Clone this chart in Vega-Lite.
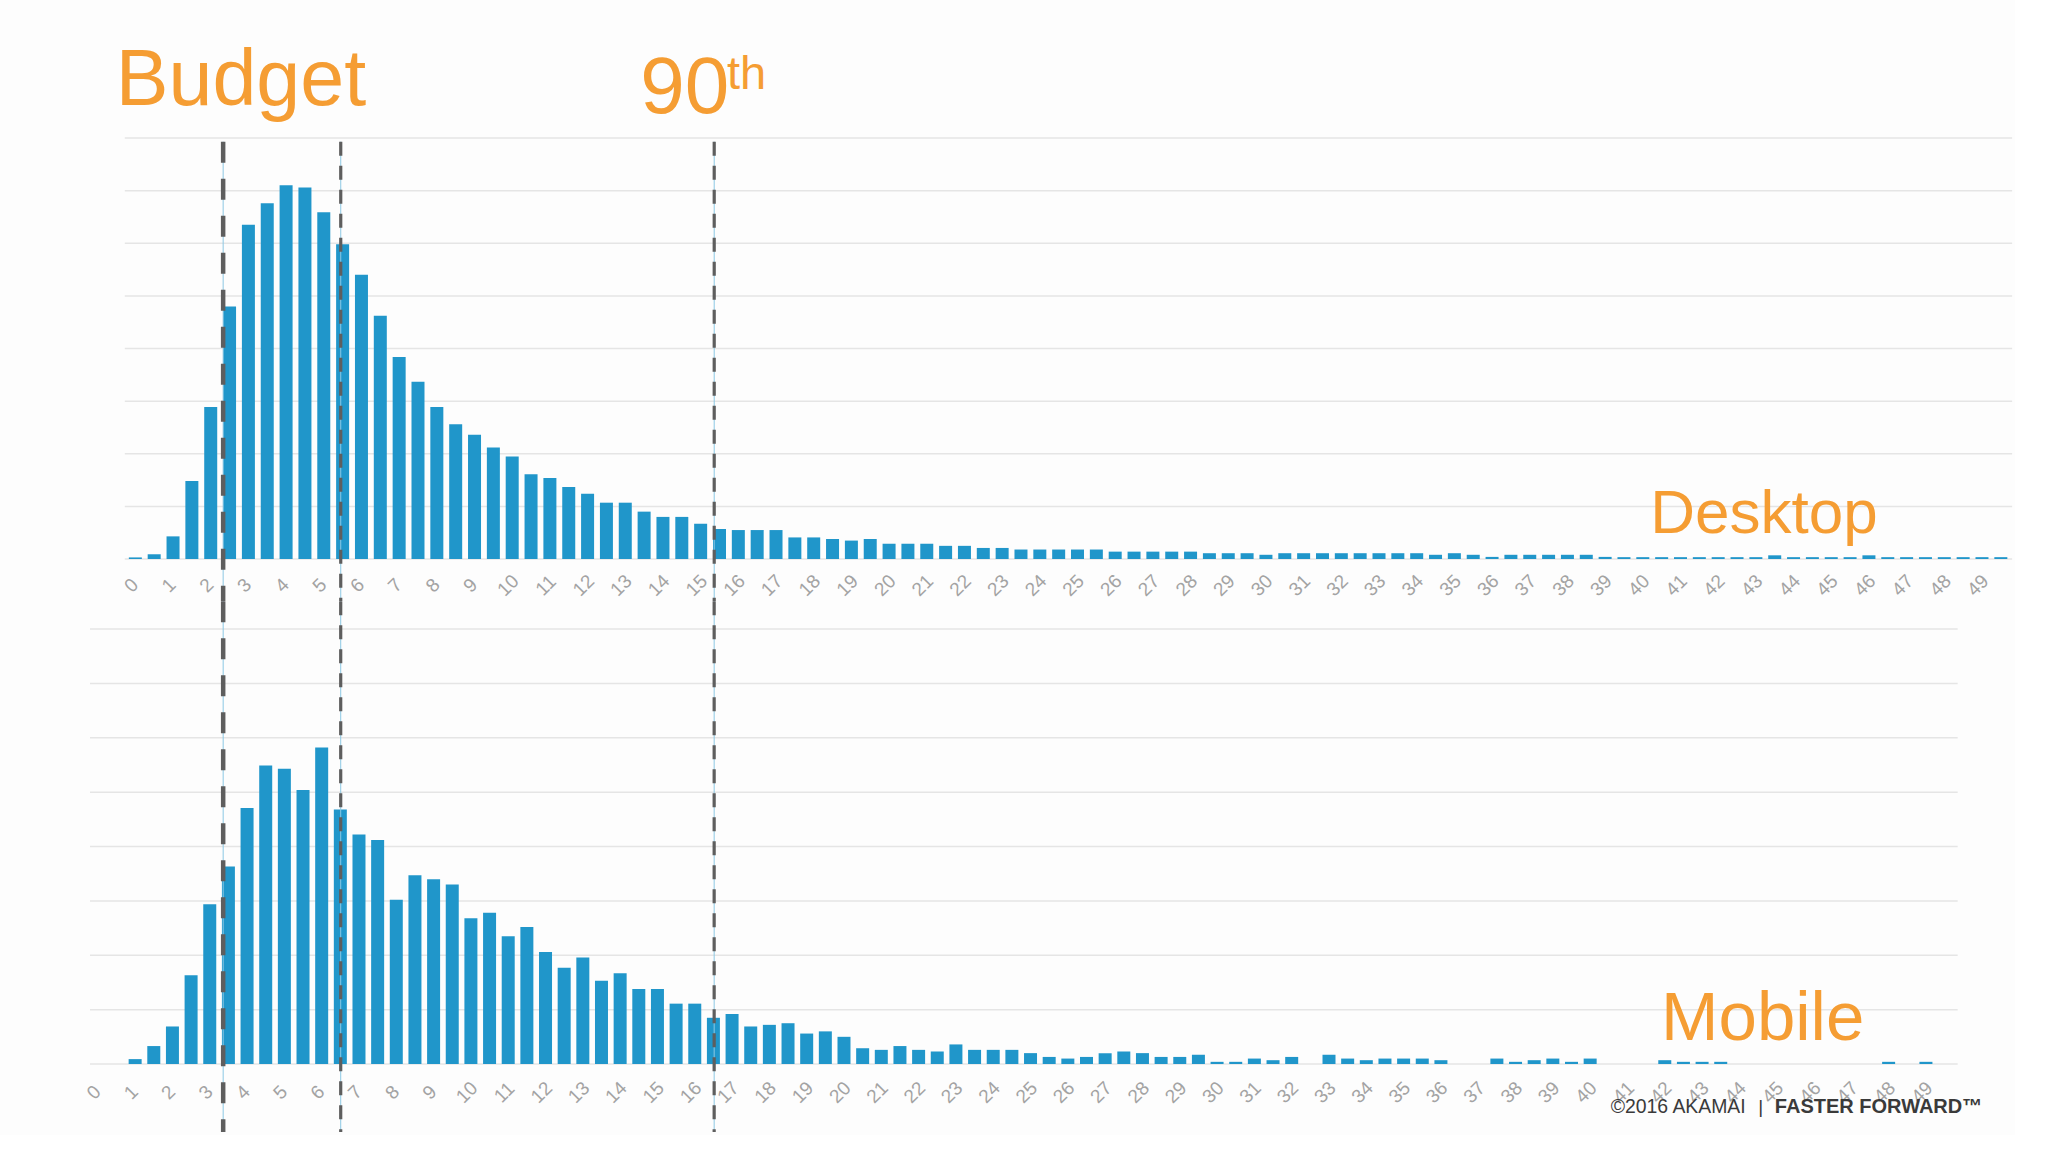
{
  "$schema": "https://vega.github.io/schema/vega-lite/v6.json",
  "background": "#fdfdfd",
  "padding": {"left": 82.5, "top": 42, "right": 0, "bottom": 0},
  "spacing": 70,
  "bounds": "flush",
  "config": {
    "view": {"stroke": null},
    "axisX": {"labelAngle": -45, "labelAlign": "center", "labelBaseline": "middle", "ticks": false, "tickSize": 0, "domain": false, "grid": false, "labelFontSize": 19, "labelColor": "#a3a3a3", "labelFont": "Liberation Sans", "labelOverlap": false, "labelFlush": false, "labelBound": false}
  },
  "datasets": {
    "desktop": [
      {"t":0.25,"share":0.03},{"t":0.75,"share":0.09},{"t":1.25,"share":0.43},{"t":1.75,"share":1.48},{"t":2.25,"share":2.89},{"t":2.75,"share":4.80},{"t":3.25,"share":6.35},{"t":3.75,"share":6.76},{"t":4.25,"share":7.10},{"t":4.75,"share":7.06},
      {"t":5.25,"share":6.59},{"t":5.75,"share":5.98},{"t":6.25,"share":5.40},{"t":6.75,"share":4.62},{"t":7.25,"share":3.84},{"t":7.75,"share":3.37},{"t":8.25,"share":2.89},{"t":8.75,"share":2.56},{"t":9.25,"share":2.36},{"t":9.75,"share":2.12},
      {"t":10.25,"share":1.95},{"t":10.75,"share":1.61},{"t":11.25,"share":1.54},{"t":11.75,"share":1.37},{"t":12.25,"share":1.24},{"t":12.75,"share":1.07},{"t":13.25,"share":1.07},{"t":13.75,"share":0.90},{"t":14.25,"share":0.80},{"t":14.75,"share":0.80},
      {"t":15.25,"share":0.67},{"t":15.75,"share":0.57},{"t":16.25,"share":0.55},{"t":16.75,"share":0.55},{"t":17.25,"share":0.55},{"t":17.75,"share":0.41},{"t":18.25,"share":0.41},{"t":18.75,"share":0.38},{"t":19.25,"share":0.35},{"t":19.75,"share":0.38},
      {"t":20.25,"share":0.29},{"t":20.75,"share":0.29},{"t":21.25,"share":0.29},{"t":21.75,"share":0.25},{"t":22.25,"share":0.25},{"t":22.75,"share":0.21},{"t":23.25,"share":0.21},{"t":23.75,"share":0.18},{"t":24.25,"share":0.18},{"t":24.75,"share":0.18},
      {"t":25.25,"share":0.18},{"t":25.75,"share":0.18},{"t":26.25,"share":0.14},{"t":26.75,"share":0.14},{"t":27.25,"share":0.14},{"t":27.75,"share":0.14},{"t":28.25,"share":0.14},{"t":28.75,"share":0.11},{"t":29.25,"share":0.11},{"t":29.75,"share":0.11},
      {"t":30.25,"share":0.08},{"t":30.75,"share":0.11},{"t":31.25,"share":0.11},{"t":31.75,"share":0.11},{"t":32.25,"share":0.11},{"t":32.75,"share":0.11},{"t":33.25,"share":0.11},{"t":33.75,"share":0.11},{"t":34.25,"share":0.11},{"t":34.75,"share":0.08},
      {"t":35.25,"share":0.11},{"t":35.75,"share":0.08},{"t":36.25,"share":0.04},{"t":36.75,"share":0.08},{"t":37.25,"share":0.08},{"t":37.75,"share":0.08},{"t":38.25,"share":0.08},{"t":38.75,"share":0.08},{"t":39.25,"share":0.04},{"t":39.75,"share":0.035},
      {"t":40.25,"share":0.035},{"t":40.75,"share":0.035},{"t":41.25,"share":0.035},{"t":41.75,"share":0.035},{"t":42.25,"share":0.035},{"t":42.75,"share":0.035},{"t":43.25,"share":0.035},{"t":43.75,"share":0.07},{"t":44.25,"share":0.035},{"t":44.75,"share":0.035},
      {"t":45.25,"share":0.035},{"t":45.75,"share":0.035},{"t":46.25,"share":0.07},{"t":46.75,"share":0.035},{"t":47.25,"share":0.035},{"t":47.75,"share":0.035},{"t":48.25,"share":0.035},{"t":48.75,"share":0.035},{"t":49.25,"share":0.035},{"t":49.75,"share":0.035}
    ],
    "mobile": [
      {"t":0.25,"share":0},{"t":0.75,"share":0},{"t":1.25,"share":0.09},{"t":1.75,"share":0.33},{"t":2.25,"share":0.69},{"t":2.75,"share":1.63},{"t":3.25,"share":2.94},{"t":3.75,"share":3.63},{"t":4.25,"share":4.71},{"t":4.75,"share":5.49},
      {"t":5.25,"share":5.43},{"t":5.75,"share":5.04},{"t":6.25,"share":5.82},{"t":6.75,"share":4.68},{"t":7.25,"share":4.22},{"t":7.75,"share":4.12},{"t":8.25,"share":3.02},{"t":8.75,"share":3.47},{"t":9.25,"share":3.40},{"t":9.75,"share":3.30},
      {"t":10.25,"share":2.68},{"t":10.75,"share":2.78},{"t":11.25,"share":2.35},{"t":11.75,"share":2.52},{"t":12.25,"share":2.06},{"t":12.75,"share":1.77},{"t":13.25,"share":1.96},{"t":13.75,"share":1.53},{"t":14.25,"share":1.67},{"t":14.75,"share":1.38},
      {"t":15.25,"share":1.38},{"t":15.75,"share":1.11},{"t":16.25,"share":1.11},{"t":16.75,"share":0.85},{"t":17.25,"share":0.92},{"t":17.75,"share":0.69},{"t":18.25,"share":0.72},{"t":18.75,"share":0.75},{"t":19.25,"share":0.56},{"t":19.75,"share":0.60},
      {"t":20.25,"share":0.50},{"t":20.75,"share":0.29},{"t":21.25,"share":0.26},{"t":21.75,"share":0.33},{"t":22.25,"share":0.26},{"t":22.75,"share":0.23},{"t":23.25,"share":0.36},{"t":23.75,"share":0.26},{"t":24.25,"share":0.26},{"t":24.75,"share":0.26},
      {"t":25.25,"share":0.20},{"t":25.75,"share":0.13},{"t":26.25,"share":0.10},{"t":26.75,"share":0.13},{"t":27.25,"share":0.20},{"t":27.75,"share":0.23},{"t":28.25,"share":0.20},{"t":28.75,"share":0.13},{"t":29.25,"share":0.13},{"t":29.75,"share":0.17},
      {"t":30.25,"share":0.04},{"t":30.75,"share":0.04},{"t":31.25,"share":0.10},{"t":31.75,"share":0.07},{"t":32.25,"share":0.13},{"t":32.75,"share":0},{"t":33.25,"share":0.17},{"t":33.75,"share":0.10},{"t":34.25,"share":0.07},{"t":34.75,"share":0.10},
      {"t":35.25,"share":0.10},{"t":35.75,"share":0.10},{"t":36.25,"share":0.07},{"t":36.75,"share":0},{"t":37.25,"share":0},{"t":37.75,"share":0.10},{"t":38.25,"share":0.04},{"t":38.75,"share":0.07},{"t":39.25,"share":0.10},{"t":39.75,"share":0.04},
      {"t":40.25,"share":0.10},{"t":40.75,"share":0},{"t":41.25,"share":0},{"t":41.75,"share":0},{"t":42.25,"share":0.07},{"t":42.75,"share":0.04},{"t":43.25,"share":0.04},{"t":43.75,"share":0.04},{"t":44.25,"share":0},{"t":44.75,"share":0},
      {"t":45.25,"share":0},{"t":45.75,"share":0},{"t":46.25,"share":0},{"t":46.75,"share":0},{"t":47.25,"share":0},{"t":47.75,"share":0},{"t":48.25,"share":0.04},{"t":48.75,"share":0},{"t":49.25,"share":0.04},{"t":49.75,"share":0}
    ],
    "grid": [{"g":0},{"g":1},{"g":2},{"g":3},{"g":4},{"g":5},{"g":6},{"g":7},{"g":8}],
    "desktopMarkers": [{"t":2.58,"kind":"budget"},{"t":5.70,"kind":"line"},{"t":15.61,"kind":"line"}],
    "mobileMarkers": [{"t":3.61,"kind":"budget"},{"t":6.76,"kind":"line"},{"t":16.77,"kind":"line"}],
    "one": [{"n":1}]
  },
  "vconcat": [
    {
      "width": 1931,
      "height": 421,
      "layer": [
        {
          "data": {"name": "grid"},
          "mark": {"type": "rule", "color": "#e5e5e5", "strokeWidth": 1.5},
          "encoding": {
            "x": {"datum": -0.03, "type": "quantitative",
                  "scale": {"domain": [-0.993, 49.98], "nice": false, "zero": false},
                  "axis": {"values": [0,1,2,3,4,5,6,7,8,9,10,11,12,13,14,15,16,17,18,19,20,21,22,23,24,25,26,27,28,29,30,31,32,33,34,35,36,37,38,39,40,41,42,43,44,45,46,47,48,49],
                           "labelPadding": 26, "labelOffset": 5, "title": null, "labelAngle": -45, "labelAlign": "center", "labelBaseline": "middle", "ticks": false, "tickSize": 0, "domain": false, "grid": false,
                           "labelFontSize": 19, "labelColor": "#a3a3a3", "labelFont": "Liberation Sans", "labelOverlap": false, "labelFlush": false, "labelBound": false}},
            "x2": {"datum": 50.05},
            "y": {"field": "g", "type": "quantitative", "scale": {"domain": [0, 8], "nice": false}, "axis": null}
          }
        },
        {
          "data": {"name": "desktop"},
          "mark": {"type": "bar", "width": 13, "color": "#2096ca"},
          "encoding": {
            "x": {"field": "t", "type": "quantitative",
                  "axis": {"values": [0,1,2,3,4,5,6,7,8,9,10,11,12,13,14,15,16,17,18,19,20,21,22,23,24,25,26,27,28,29,30,31,32,33,34,35,36,37,38,39,40,41,42,43,44,45,46,47,48,49],
                           "labelPadding": 26, "labelOffset": 5, "title": null, "labelAngle": -45, "labelAlign": "center", "labelBaseline": "middle", "ticks": false, "tickSize": 0, "domain": false, "grid": false,
                           "labelFontSize": 19, "labelColor": "#a3a3a3", "labelFont": "Liberation Sans", "labelOverlap": false, "labelFlush": false, "labelBound": false}},
            "y": {"field": "share", "type": "quantitative", "axis": null}
          }
        },
        {
          "data": {"name": "desktopMarkers"},
          "mark": {"type": "rule", "color": "#8cc8e4", "strokeWidth": 1},
          "encoding": {
            "x": {"field": "t", "type": "quantitative",
                  "axis": {"values": [0,1,2,3,4,5,6,7,8,9,10,11,12,13,14,15,16,17,18,19,20,21,22,23,24,25,26,27,28,29,30,31,32,33,34,35,36,37,38,39,40,41,42,43,44,45,46,47,48,49],
                           "labelPadding": 26, "labelOffset": 5, "title": null, "labelAngle": -45, "labelAlign": "center", "labelBaseline": "middle", "ticks": false, "tickSize": 0, "domain": false, "grid": false,
                           "labelFontSize": 19, "labelColor": "#a3a3a3", "labelFont": "Liberation Sans", "labelOverlap": false, "labelFlush": false, "labelBound": false}},
            "y": {"datum": 7.93, "type": "quantitative", "axis": null},
            "y2": {"datum": -0.8}
          }
        },
        {
          "data": {"name": "desktopMarkers"},
          "mark": {"type": "rule", "color": "#5e5e5e"},
          "encoding": {
            "x": {"field": "t", "type": "quantitative",
                  "axis": {"values": [0,1,2,3,4,5,6,7,8,9,10,11,12,13,14,15,16,17,18,19,20,21,22,23,24,25,26,27,28,29,30,31,32,33,34,35,36,37,38,39,40,41,42,43,44,45,46,47,48,49],
                           "labelPadding": 26, "labelOffset": 5, "title": null, "labelAngle": -45, "labelAlign": "center", "labelBaseline": "middle", "ticks": false, "tickSize": 0, "domain": false, "grid": false,
                           "labelFontSize": 19, "labelColor": "#a3a3a3", "labelFont": "Liberation Sans", "labelOverlap": false, "labelFlush": false, "labelBound": false}},
            "y": {"datum": 7.93, "type": "quantitative", "axis": null},
            "y2": {"datum": -0.8},
            "strokeWidth": {"field": "kind", "type": "nominal", "scale": {"domain": ["budget", "line"], "range": [4.5, 3.2]}, "legend": null},
            "strokeDash": {"field": "kind", "type": "nominal", "scale": {"domain": ["budget", "line"], "range": [[21, 16], [14, 10]]}, "legend": null}
          }
        },
        {
          "data": {"name": "one"},
          "mark": {"type": "text", "text": "Budget", "font": "Liberation Sans", "fontSize": 79, "color": "#f59d33", "align": "left", "baseline": "alphabetic"},
          "encoding": {
            "x": {"datum": -0.27, "type": "quantitative",
                  "axis": {"values": [0,1,2,3,4,5,6,7,8,9,10,11,12,13,14,15,16,17,18,19,20,21,22,23,24,25,26,27,28,29,30,31,32,33,34,35,36,37,38,39,40,41,42,43,44,45,46,47,48,49],
                           "labelPadding": 26, "labelOffset": 5, "title": null, "labelAngle": -45, "labelAlign": "center", "labelBaseline": "middle", "ticks": false, "tickSize": 0, "domain": false, "grid": false,
                           "labelFontSize": 19, "labelColor": "#a3a3a3", "labelFont": "Liberation Sans", "labelOverlap": false, "labelFlush": false, "labelBound": false}},
            "y": {"datum": 8.62, "type": "quantitative", "axis": null}
          }
        },
        {
          "data": {"name": "one"},
          "mark": {"type": "text", "text": "90", "font": "Liberation Sans", "fontSize": 80, "color": "#f59d33", "align": "left", "baseline": "alphabetic"},
          "encoding": {
            "x": {"datum": 13.65, "type": "quantitative",
                  "axis": {"values": [0,1,2,3,4,5,6,7,8,9,10,11,12,13,14,15,16,17,18,19,20,21,22,23,24,25,26,27,28,29,30,31,32,33,34,35,36,37,38,39,40,41,42,43,44,45,46,47,48,49],
                           "labelPadding": 26, "labelOffset": 5, "title": null, "labelAngle": -45, "labelAlign": "center", "labelBaseline": "middle", "ticks": false, "tickSize": 0, "domain": false, "grid": false,
                           "labelFontSize": 19, "labelColor": "#a3a3a3", "labelFont": "Liberation Sans", "labelOverlap": false, "labelFlush": false, "labelBound": false}},
            "y": {"datum": 8.48, "type": "quantitative", "axis": null}
          }
        },
        {
          "data": {"name": "one"},
          "mark": {"type": "text", "text": "th", "font": "Liberation Sans", "fontSize": 47, "color": "#f59d33", "align": "left", "baseline": "alphabetic"},
          "encoding": {
            "x": {"datum": 15.95, "type": "quantitative",
                  "axis": {"values": [0,1,2,3,4,5,6,7,8,9,10,11,12,13,14,15,16,17,18,19,20,21,22,23,24,25,26,27,28,29,30,31,32,33,34,35,36,37,38,39,40,41,42,43,44,45,46,47,48,49],
                           "labelPadding": 26, "labelOffset": 5, "title": null, "labelAngle": -45, "labelAlign": "center", "labelBaseline": "middle", "ticks": false, "tickSize": 0, "domain": false, "grid": false,
                           "labelFontSize": 19, "labelColor": "#a3a3a3", "labelFont": "Liberation Sans", "labelOverlap": false, "labelFlush": false, "labelBound": false}},
            "y": {"datum": 8.94, "type": "quantitative", "axis": null}
          }
        },
        {
          "data": {"name": "one"},
          "mark": {"type": "text", "text": "Desktop", "font": "Liberation Sans", "fontSize": 62, "color": "#f59d33", "align": "left", "baseline": "alphabetic"},
          "encoding": {
            "x": {"datum": 40.45, "type": "quantitative",
                  "axis": {"values": [0,1,2,3,4,5,6,7,8,9,10,11,12,13,14,15,16,17,18,19,20,21,22,23,24,25,26,27,28,29,30,31,32,33,34,35,36,37,38,39,40,41,42,43,44,45,46,47,48,49],
                           "labelPadding": 26, "labelOffset": 5, "title": null, "labelAngle": -45, "labelAlign": "center", "labelBaseline": "middle", "ticks": false, "tickSize": 0, "domain": false, "grid": false,
                           "labelFontSize": 19, "labelColor": "#a3a3a3", "labelFont": "Liberation Sans", "labelOverlap": false, "labelFlush": false, "labelBound": false}},
            "y": {"datum": 0.5, "type": "quantitative", "axis": null}
          }
        }
      ]
    },
    {
      "width": 1931,
      "height": 435,
      "layer": [
        {
          "data": {"name": "grid"},
          "mark": {"type": "rule", "color": "#e5e5e5", "strokeWidth": 1.5},
          "encoding": {
            "x": {"datum": 0.04, "type": "quantitative",
                  "scale": {"domain": [0, 51.49], "nice": false, "zero": false},
                  "axis": {"values": [0,1,2,3,4,5,6,7,8,9,10,11,12,13,14,15,16,17,18,19,20,21,22,23,24,25,26,27,28,29,30,31,32,33,34,35,36,37,38,39,40,41,42,43,44,45,46,47,48,49],
                           "labelPadding": 28, "labelOffset": 5, "title": null, "labelAngle": -45, "labelAlign": "center", "labelBaseline": "middle", "ticks": false, "tickSize": 0, "domain": false, "grid": false,
                           "labelFontSize": 19, "labelColor": "#a3a3a3", "labelFont": "Liberation Sans", "labelOverlap": false, "labelFlush": false, "labelBound": false}},
            "x2": {"datum": 50.1},
            "y": {"field": "g", "type": "quantitative", "scale": {"domain": [0, 8], "nice": false}, "axis": null}
          }
        },
        {
          "data": {"name": "mobile"},
          "mark": {"type": "bar", "width": 13, "color": "#2096ca"},
          "encoding": {
            "x": {"field": "t", "type": "quantitative",
                  "axis": {"values": [0,1,2,3,4,5,6,7,8,9,10,11,12,13,14,15,16,17,18,19,20,21,22,23,24,25,26,27,28,29,30,31,32,33,34,35,36,37,38,39,40,41,42,43,44,45,46,47,48,49],
                           "labelPadding": 28, "labelOffset": 5, "title": null, "labelAngle": -45, "labelAlign": "center", "labelBaseline": "middle", "ticks": false, "tickSize": 0, "domain": false, "grid": false,
                           "labelFontSize": 19, "labelColor": "#a3a3a3", "labelFont": "Liberation Sans", "labelOverlap": false, "labelFlush": false, "labelBound": false}},
            "y": {"field": "share", "type": "quantitative", "axis": null}
          }
        },
        {
          "data": {"name": "mobileMarkers"},
          "mark": {"type": "rule", "color": "#8cc8e4", "strokeWidth": 1},
          "encoding": {
            "x": {"field": "t", "type": "quantitative",
                  "axis": {"values": [0,1,2,3,4,5,6,7,8,9,10,11,12,13,14,15,16,17,18,19,20,21,22,23,24,25,26,27,28,29,30,31,32,33,34,35,36,37,38,39,40,41,42,43,44,45,46,47,48,49],
                           "labelPadding": 28, "labelOffset": 5, "title": null, "labelAngle": -45, "labelAlign": "center", "labelBaseline": "middle", "ticks": false, "tickSize": 0, "domain": false, "grid": false,
                           "labelFontSize": 19, "labelColor": "#a3a3a3", "labelFont": "Liberation Sans", "labelOverlap": false, "labelFlush": false, "labelBound": false}},
            "y": {"datum": 8.51, "type": "quantitative", "axis": null},
            "y2": {"datum": -1.25}
          }
        },
        {
          "data": {"name": "mobileMarkers"},
          "mark": {"type": "rule", "color": "#5e5e5e"},
          "encoding": {
            "x": {"field": "t", "type": "quantitative",
                  "axis": {"values": [0,1,2,3,4,5,6,7,8,9,10,11,12,13,14,15,16,17,18,19,20,21,22,23,24,25,26,27,28,29,30,31,32,33,34,35,36,37,38,39,40,41,42,43,44,45,46,47,48,49],
                           "labelPadding": 28, "labelOffset": 5, "title": null, "labelAngle": -45, "labelAlign": "center", "labelBaseline": "middle", "ticks": false, "tickSize": 0, "domain": false, "grid": false,
                           "labelFontSize": 19, "labelColor": "#a3a3a3", "labelFont": "Liberation Sans", "labelOverlap": false, "labelFlush": false, "labelBound": false}},
            "y": {"datum": 8.51, "type": "quantitative", "axis": null},
            "y2": {"datum": -1.25},
            "strokeWidth": {"field": "kind", "type": "nominal", "scale": {"domain": ["budget", "line"], "range": [4.5, 3.2]}, "legend": null},
            "strokeDash": {"field": "kind", "type": "nominal", "scale": {"domain": ["budget", "line"], "range": [[21, 16], [14, 10]]}, "legend": null}
          }
        },
        {
          "data": {"name": "one"},
          "mark": {"type": "text", "text": "Mobile", "font": "Liberation Sans", "fontSize": 69, "color": "#f59d33", "align": "left", "baseline": "alphabetic"},
          "encoding": {
            "x": {"datum": 42.15, "type": "quantitative",
                  "axis": {"values": [0,1,2,3,4,5,6,7,8,9,10,11,12,13,14,15,16,17,18,19,20,21,22,23,24,25,26,27,28,29,30,31,32,33,34,35,36,37,38,39,40,41,42,43,44,45,46,47,48,49],
                           "labelPadding": 28, "labelOffset": 5, "title": null, "labelAngle": -45, "labelAlign": "center", "labelBaseline": "middle", "ticks": false, "tickSize": 0, "domain": false, "grid": false,
                           "labelFontSize": 19, "labelColor": "#a3a3a3", "labelFont": "Liberation Sans", "labelOverlap": false, "labelFlush": false, "labelBound": false}},
            "y": {"datum": 0.45, "type": "quantitative", "axis": null}
          }
        },
        {
          "data": {"name": "one"},
          "mark": {"type": "text", "text": "©2016 AKAMAI", "font": "Liberation Sans", "fontSize": 19.4, "color": "#3a3a3a", "align": "left", "baseline": "alphabetic"},
          "encoding": {
            "x": {"datum": 40.8, "type": "quantitative",
                  "axis": {"values": [0,1,2,3,4,5,6,7,8,9,10,11,12,13,14,15,16,17,18,19,20,21,22,23,24,25,26,27,28,29,30,31,32,33,34,35,36,37,38,39,40,41,42,43,44,45,46,47,48,49],
                           "labelPadding": 28, "labelOffset": 5, "title": null, "labelAngle": -45, "labelAlign": "center", "labelBaseline": "middle", "ticks": false, "tickSize": 0, "domain": false, "grid": false,
                           "labelFontSize": 19, "labelColor": "#a3a3a3", "labelFont": "Liberation Sans", "labelOverlap": false, "labelFlush": false, "labelBound": false}},
            "y": {"datum": -0.895, "type": "quantitative", "axis": null}
          }
        },
        {
          "data": {"name": "one"},
          "mark": {"type": "text", "text": "|", "font": "Liberation Sans", "fontSize": 19, "color": "#3a3a3a", "align": "center", "baseline": "alphabetic"},
          "encoding": {
            "x": {"datum": 44.82, "type": "quantitative",
                  "axis": {"values": [0,1,2,3,4,5,6,7,8,9,10,11,12,13,14,15,16,17,18,19,20,21,22,23,24,25,26,27,28,29,30,31,32,33,34,35,36,37,38,39,40,41,42,43,44,45,46,47,48,49],
                           "labelPadding": 28, "labelOffset": 5, "title": null, "labelAngle": -45, "labelAlign": "center", "labelBaseline": "middle", "ticks": false, "tickSize": 0, "domain": false, "grid": false,
                           "labelFontSize": 19, "labelColor": "#a3a3a3", "labelFont": "Liberation Sans", "labelOverlap": false, "labelFlush": false, "labelBound": false}},
            "y": {"datum": -0.895, "type": "quantitative", "axis": null}
          }
        },
        {
          "data": {"name": "one"},
          "mark": {"type": "text", "text": "FASTER FORWARD™", "font": "Liberation Sans", "fontSize": 20, "fontWeight": "bold", "color": "#3a3a3a", "align": "left", "baseline": "alphabetic"},
          "encoding": {
            "x": {"datum": 45.2, "type": "quantitative",
                  "axis": {"values": [0,1,2,3,4,5,6,7,8,9,10,11,12,13,14,15,16,17,18,19,20,21,22,23,24,25,26,27,28,29,30,31,32,33,34,35,36,37,38,39,40,41,42,43,44,45,46,47,48,49],
                           "labelPadding": 28, "labelOffset": 5, "title": null, "labelAngle": -45, "labelAlign": "center", "labelBaseline": "middle", "ticks": false, "tickSize": 0, "domain": false, "grid": false,
                           "labelFontSize": 19, "labelColor": "#a3a3a3", "labelFont": "Liberation Sans", "labelOverlap": false, "labelFlush": false, "labelBound": false}},
            "y": {"datum": -0.895, "type": "quantitative", "axis": null}
          }
        }
      ]
    }
  ]
}
